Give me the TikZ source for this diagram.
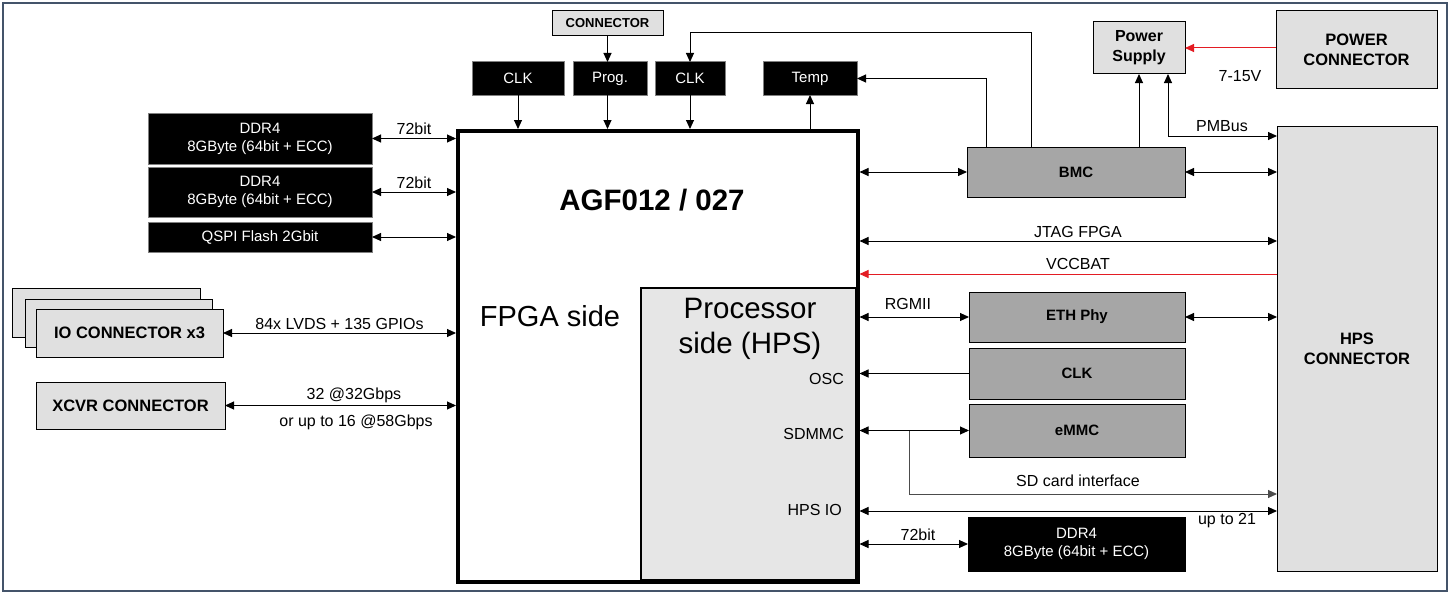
\documentclass[tikz,border=0pt]{standalone}
\usepackage{fontspec}
\setmainfont{Liberation Sans}
\usetikzlibrary{arrows.meta}
\definecolor{dgray}{HTML}{A6A6A6}
\definecolor{lgray}{HTML}{E0E0E0}
\definecolor{pgray}{HTML}{E6E6E6}
\definecolor{frame}{HTML}{44546A}
\definecolor{redl}{HTML}{E31C23}
\newcommand\myfs[2]{\fontsize{#1}{#2}\selectfont}
\begin{document}
\begin{tikzpicture}[x=1pt,y=-1pt,
  conn/.style={line width=1pt,-{Triangle[length=9pt,width=8pt]}},
  bi/.style={line width=1pt,{Triangle[length=9pt,width=8pt]}-{Triangle[length=9pt,width=8pt]}},
  boxbase/.style={anchor=north west,inner sep=0pt,outer sep=0pt,align=center,line width=1pt},
  blk/.style={boxbase,draw=gray,fill=black,text=white,font=\myfs{15}{18}},
  dgr/.style={boxbase,draw=black,fill=dgray,font=\bfseries\myfs{15}{18}},
  lgr/.style={boxbase,draw=black,fill=lgray,font=\bfseries\myfs{16.5}{20}},
  lbl/.style={font=\myfs{16}{19},inner sep=0pt}
]
\fill[white] (0,0) rectangle (1451,594);
\useasboundingbox (0,0) rectangle (1451,594);
\draw[frame,line width=1.2pt] (3,3) rectangle (1447,591);

% main chip
\node[boxbase,draw=black,fill=pgray,line width=2.5pt,minimum width=215,minimum height=292] (hpsside) at (641,288) {};
\node[anchor=north west,draw=black,line width=3.5pt,inner sep=0pt,minimum width=400,minimum height=451] (fpga) at (456,129) {};
\node[font=\bfseries\myfs{29.5}{34}] (title) at (652,200) {AGF012 / 027};
\node[font=\myfs{29}{34}] (fpgaside) at (550,316) {FPGA side};
\node[font=\myfs{29.5}{35},align=center] (procside) at (750,329) {Processor\\side (HPS)};
\node[lbl,anchor=east] (osc) at (844,379) {OSC};
\node[lbl,anchor=east] (sdmmc) at (844,434) {SDMMC};
\node[lbl,anchor=east] (hpsio) at (842,510) {HPS IO};

% left side
\node[blk,minimum width=224,minimum height=51] (ddr1) at (148,113) {DDR4\\8GByte (64bit + ECC)};
\node[blk,minimum width=224,minimum height=50] (ddr2) at (148,167) {DDR4\\8GByte (64bit + ECC)};
\node[blk,minimum width=224,minimum height=30] (qspi) at (148,222) {QSPI Flash 2Gbit};
\node[lgr,minimum width=188,minimum height=49] (io3) at (12,288) {};
\node[lgr,minimum width=187,minimum height=48] (io2) at (25,299) {};
\node[lgr,minimum width=187,minimum height=48] (io1) at (36,309) {IO CONNECTOR x3};
\node[lgr,minimum width=189,minimum height=47] (xcvr) at (36,382) {XCVR CONNECTOR};

\draw[bi] (ddr1.east) -- (ddr1.east -| fpga.west) node[midway,above=3pt,lbl] {72bit};
\draw[bi] (ddr2.east) -- (ddr2.east -| fpga.west) node[midway,above=3pt,lbl] {72bit};
\draw[bi] (qspi.east) -- (qspi.east -| fpga.west);
\draw[bi] (io1.east) -- (io1.east -| fpga.west) node[midway,above=3pt,lbl] {84x LVDS + 135 GPIOs};
\draw[bi] (xcvr.east) -- (xcvr.east -| fpga.west);
\node[lbl] (x1) at (354,395) {32 @32Gbps};
\node[lbl] (x2) at (356,422) {or up to 16 @58Gbps};

% top
\node[lgr,font=\bfseries\myfs{13}{15},minimum width=111,minimum height=25] (con) at (552,11) {CONNECTOR};
\node[blk,minimum width=92,minimum height=33] (clk1) at (472,62) {CLK};
\node[blk,minimum width=74,minimum height=33] (prog) at (573,62) {Prog.};
\node[blk,minimum width=70,minimum height=33] (clk2) at (655,62) {CLK};
\node[blk,minimum width=94,minimum height=33] (temp) at (763,62) {Temp};

\draw[conn] (con.south) -- (con.south |- prog.north);
\draw[conn] (con.south |- prog.south) -- (con.south |- fpga.north);
\draw[conn] (clk1.south) -- (clk1.south |- fpga.north);
\draw[conn] (clk2.south) -- (clk2.south |- fpga.north);
\draw[conn] (temp.south |- fpga.north) -- (temp.south);

% right side
\node[dgr,minimum width=218,minimum height=50] (bmc) at (967,147) {BMC};
\node[lgr,font=\bfseries\myfs{16}{20},minimum width=92,minimum height=52] (ps) at (1093,22) {Power\\Supply};
\node[lgr,minimum width=161,minimum height=77] (pcon) at (1276,11) {POWER\\CONNECTOR};
\node[lgr,minimum width=160,minimum height=445] (hps) at (1277,126) {HPS\\CONNECTOR};

\draw[conn,redl] (pcon.west |- ps.east) -- (ps.east);
\node[lbl] (v715) at (1240,76) {7-15V};

\coordinate (k1) at (1031,33);
\coordinate (k2) at (986,78);
\coordinate (k3) at (1168,136);
\draw[conn] (bmc.north -| k1) -- (k1) -| (clk2.north);
\draw[conn] (bmc.north -| k2) |- (temp.east);
\draw[conn] (bmc.north -| ps.south) -- (ps.south);
\draw[bi] (ps.south -| k3) |- (hps.west |- k3);
\node[lbl] (pmbus) at (1222,126) {PMBus};

\draw[bi] (fpga.east |- bmc.west) -- (bmc.west);
\draw[bi] (bmc.east) -- (bmc.east -| hps.west);

\coordinate (jt) at (1000,241);
\draw[bi] (fpga.east |- jt) -- (hps.west |- jt);
\node[lbl] (jtag) at (1078,232) {JTAG FPGA};
\coordinate (vb) at (1000,274);
\draw[conn,redl] (hps.west |- vb) -- (fpga.east |- vb);
\node[lbl] (vcc) at (1078,264) {VCCBAT};

\node[dgr,minimum width=216,minimum height=50] (eth) at (969,292) {ETH Phy};
\node[dgr,minimum width=216,minimum height=51] (clkh) at (969,348) {CLK};
\node[dgr,minimum width=216,minimum height=53] (emmc) at (969,404) {eMMC};
\node[blk,draw=black,minimum width=217,minimum height=54] (ddrh) at (968,517) {DDR4\\8GByte (64bit + ECC)};

\draw[bi] (fpga.east |- eth.west) -- (eth.west);
\node[lbl] (rgmii) at (908,304) {RGMII};
\draw[bi] (eth.east) -- (eth.east -| hps.west);
\draw[conn] (clkh.west) -- (clkh.west -| fpga.east);
\draw[bi] (fpga.east |- emmc.west) -- (emmc.west);
\coordinate (sdb) at (909,431);
\coordinate (sdc) at (909,494);
\draw[conn,black!70] (sdb) -- (sdc) -- (sdc -| hps.west);
\node[lbl] (sdlbl) at (1078,481) {SD card interface};
\coordinate (hio) at (1000,511);
\draw[bi] (fpga.east |- hio) -- (hps.west |- hio);
\node[lbl] (upto) at (1227,521) {up to 21};
\draw[bi] (fpga.east |- ddrh.west) -- (ddrh.west);
\node[lbl] (b72) at (918,535) {72bit};
\end{tikzpicture}
\end{document}
